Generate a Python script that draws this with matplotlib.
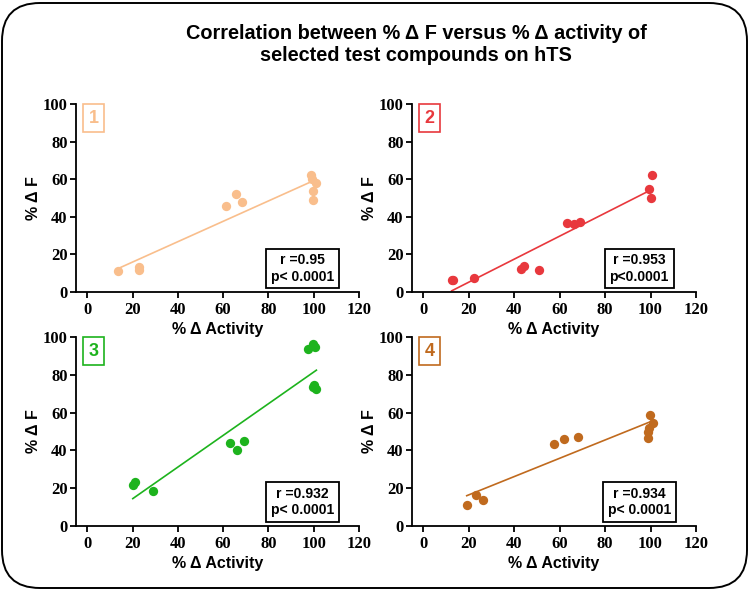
#!/usr/bin/env python3
"""
correlation between % delta F and % delta activity, 4 panels
"""
import numpy as np
from matplotlib import pyplot as plt
from matplotlib.patches import FancyBboxPatch

# data
x1 = [13.6, 22.7, 22.7, 61.3, 65.9, 68.2, 99.0, 99.4, 101.0, 99.7, 99.7]
y1 = [11.3, 13.1, 11.9, 45.8, 52.0, 47.8, 62.0, 60.0, 57.9, 53.5, 48.7]

x2 = [12.5, 13.2, 22.2, 43.0, 44.5, 50.9, 63.1, 66.3, 68.9, 99.5, 100.6, 100.2]
y2 = [6.5, 6.5, 7.4, 12.4, 13.6, 11.5, 36.6, 36.1, 37.3, 55.0, 62.1, 50.1]

x3 = [20.1, 21.0, 29.0, 63.1, 66.2, 69.1, 97.3, 99.5, 100.6, 99.5, 100.0, 101.2]
y3 = [21.7, 23.1, 18.7, 43.7, 40.1, 45.1, 93.7, 96.5, 94.7, 73.4, 74.8, 72.4]

x4 = [19.1, 23.2, 26.3, 57.5, 62.1, 68.0, 99.7, 100.9, 99.1, 98.7, 98.8]
y4 = [11.1, 16.4, 13.7, 43.5, 46.1, 47.2, 58.5, 54.6, 52.1, 49.5, 46.7]

panel_ids = ["1", "2", "3", "4"]
stats = ["r =0.95\np< 0.0001", "r =0.953\np<0.0001",
         "r =0.932\np< 0.0001", "r =0.934\np< 0.0001"]
colors = ["#F9BE8C", "#E8383D", "#1DB31D", "#C06A1E"]

xticks = [0, 20, 40, 60, 80, 100, 120]
yticks = [0, 20, 40, 60, 80, 100]

sans = "Liberation Sans"
serif = "Liberation Serif"

fig = plt.figure(figsize=(7.5, 5.9), dpi=100)

# rounded frame around everything
bg = fig.add_axes([0, 0, 1, 1])
bg.set_xlim(0, 750)
bg.set_ylim(0, 590)
bg.axis("off")
bg.add_patch(FancyBboxPatch((2, 2), 745, 585, boxstyle="round,pad=0,rounding_size=38",
                            facecolor="white", edgecolor="black", linewidth=1.4))

fig.text(0.555, 0.9246, "Correlation between % \u0394 F versus % \u0394 activity of\nselected test compounds on hTS",
         ha="center", va="center", fontsize=14.3, fontweight="bold", family=sans, linespacing=1.2)

positions = [[0.1013, 0.5051, 0.3773, 0.3186],
             [0.5493, 0.5051, 0.3787, 0.3186],
             [0.1013, 0.1085, 0.3773, 0.3203],
             [0.5493, 0.1085, 0.3787, 0.3203]]

for xs, ys, pid, st, col, pos in zip([x1, x2, x3, x4], [y1, y2, y3, y4],
                                      panel_ids, stats, colors, positions):
    ax = fig.add_axes(pos)
    ax.patch.set_alpha(0)
    xs = np.array(xs)
    ys = np.array(ys)
    ax.scatter(xs, ys, s=45, color=col, zorder=3, linewidths=0)
    k, d = np.polyfit(xs, ys, 1)
    xx = np.array([xs.min(), xs.max()])
    ax.plot(xx, k * xx + d, color=col, linewidth=1.2, zorder=2)

    ax.set_xlim(-5, 120)
    ax.set_ylim(0, 100)
    ax.set_xticks(xticks)
    ax.set_yticks(yticks)
    for s in ["top", "right"]:
        ax.spines[s].set_visible(False)
    for s in ["left", "bottom"]:
        ax.spines[s].set_linewidth(1.3)
    ax.tick_params(direction="out", length=4, width=1.3, pad=3)
    ax.tick_params(axis="y", pad=2)
    for lab in ax.get_xticklabels() + ax.get_yticklabels():
        lab.set_family(serif)
        lab.set_fontweight("bold")
        lab.set_fontsize(12)

    ax.set_xlabel("% \u0394 Activity", fontsize=11.5, fontweight="bold", family=sans, labelpad=3)
    ax.set_ylabel("% \u0394 F", fontsize=11.5, fontweight="bold", family=sans, labelpad=1)

    ax.text(0.063, 0.925, pid, transform=ax.transAxes, ha="center", va="center",
            fontsize=13, fontweight="bold", family=sans, color=col,
            bbox=dict(boxstyle="square,pad=0.3", facecolor="white", edgecolor=col, linewidth=1.2))
    ax.text(0.80, 0.125, st, transform=ax.transAxes, ha="center", va="center",
            fontsize=10, fontweight="bold", family=sans, linespacing=1.2,
            bbox=dict(boxstyle="square,pad=0.35", facecolor="white", edgecolor="black", linewidth=1.3))

fig.savefig("out.png", dpi=100)
